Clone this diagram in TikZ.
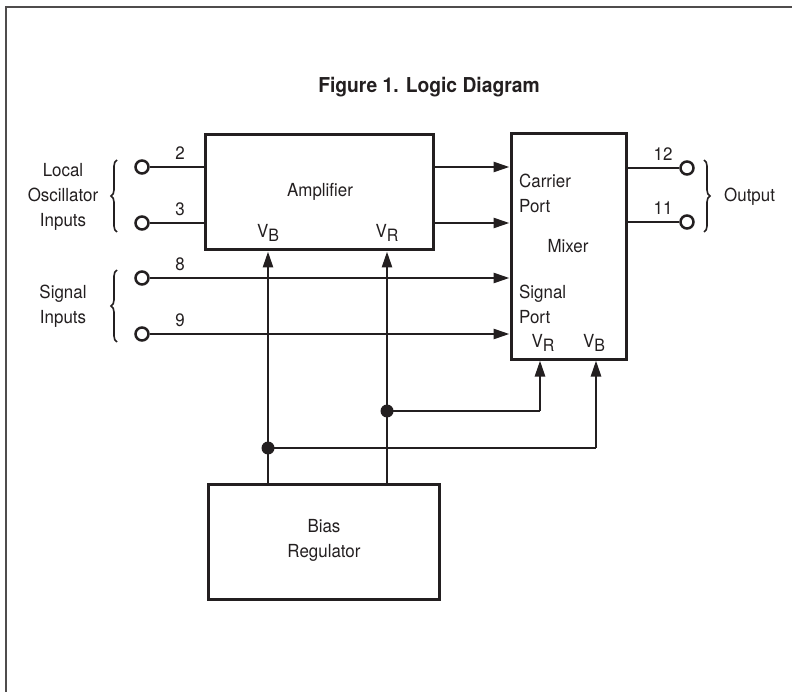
\documentclass[tikz,border=0pt]{standalone}
\usepackage{fontspec}
\setmainfont{TeX Gyre Heros}[FakeStretch=0.94]
\usetikzlibrary{arrows.meta,decorations.pathreplacing}
\definecolor{ink}{RGB}{35,31,32}
\newcommand{\sub}[2]{#1\raisebox{-0.45ex}{\fontsize{17}{17}\selectfont #2}}
\begin{document}
\begin{tikzpicture}[x=1pt,y=-1pt,
  every node/.style={font=\fontsize{18}{25}\selectfont, text=ink, inner sep=0pt},
  box/.style={draw=ink, line width=3pt, fill=none},
  wire/.style={draw=ink, line width=2.6pt},
  arr/.style={wire, -{Triangle[length=16pt,width=10pt]}},
  term/.style={circle, draw=ink, fill=white, line width=2.5pt, minimum size=13pt},
  dot/.style={circle, fill=ink, minimum size=13pt},
  brc/.style={draw=ink, line width=1.6pt, decorate, decoration={brace, amplitude=6pt}},
  lbl/.style={align=center}]
\useasboundingbox (0,0) rectangle (792,692);
% frame
\draw[ink!80, line width=1.8pt] (6,692) -- (6,7) -- (792,7);
% title
\node[font=\fontsize{20.5}{24}\selectfont\bfseries] (title) at (429,87) {Figure 1. Logic Diagram};
% boxes
\node[box, minimum width=228pt, minimum height=115pt] (amp) at (319,192.5) {};
\node[box, minimum width=115pt, minimum height=225pt] (mix) at (568.5,246.5) {};
\node[box, minimum width=231pt, minimum height=115pt] (bias) at (323.5,541.5) {};
% box texts
\node (ampt) at (320,192) {Amplifier};
\node (ampvb) at (268,233) {\sub{V}{B}};
\node (ampvr) at (387,233) {\sub{V}{R}};
\node[anchor=west, align=left] (carr) at (519,193) {Carrier\\Port};
\node (mixt) at (568,246) {Mixer};
\node[anchor=west, align=left] (sigp) at (519,304) {Signal\\Port};
\node (mixvr) at (543,343) {\sub{V}{R}};
\node (mixvb) at (594,343) {\sub{V}{B}};
\node[lbl] (biast) at (324,540) {Bias\\Regulator};
% input terminals
\node[term] (t2) at (142,167) {};
\node[term] (t3) at (142,223) {};
\node[term] (t8) at (142,278) {};
\node[term] (t9) at (142,334) {};
\node (n2) at (180,153) {2};
\node (n3) at (180,209) {3};
\node (n8) at (180,264) {8};
\node (n9) at (180,320) {9};
\draw[wire] (t2) -- (t2 -| amp.west);
\draw[wire] (t3) -- (t3 -| amp.west);
\draw[arr] (t8) -- (t8 -| mix.west);
\draw[arr] (t9) -- (t9 -| mix.west);
% amplifier to mixer
\draw[arr] (amp.east |- t2) -- (mix.west |- t2);
\draw[arr] (amp.east |- t3) -- (mix.west |- t3);
% outputs
\node[term] (t12) at (687,168) {};
\node[term] (t11) at (687,222) {};
\node (n12) at (663,154) {12};
\node (n11) at (663,208) {11};
\draw[wire] (mix.east |- t12) -- (t12);
\draw[wire] (mix.east |- t11) -- (t11);
% braces and group labels
\coordinate (b1a) at (117,232); \coordinate (b1b) at (117,160);
\draw[brc] (b1a) -- (b1b);
\coordinate (b2a) at (117,342); \coordinate (b2b) at (117,270);
\draw[brc] (b2a) -- (b2b);
\coordinate (b3a) at (704,160); \coordinate (b3b) at (704,232);
\draw[brc] (b3a) -- (b3b);
\node[lbl] (loc) at (63,197) {Local\\Oscillator\\Inputs};
\node[lbl] (sig) at (63,306) {Signal\\Inputs};
\node[anchor=west] (out) at (724,197) {Output};
% bias distribution
\node[dot] (d1) at (387,411) {};
\node[dot] (d2) at (268,448) {};
\coordinate (m1) at (540,411);
\coordinate (m2) at (596,448);
\draw[arr] (bias.north -| d2) -- (d2 |- amp.south);
\draw[arr] (bias.north -| d1) -- (d1 |- amp.south);
\draw[wire] (d1.center) -- (m1);
\draw[arr] (m1) -- (m1 |- mix.south);
\draw[wire] (d2.center) -- (m2);
\draw[arr] (m2) -- (m2 |- mix.south);
\end{tikzpicture}
\end{document}
